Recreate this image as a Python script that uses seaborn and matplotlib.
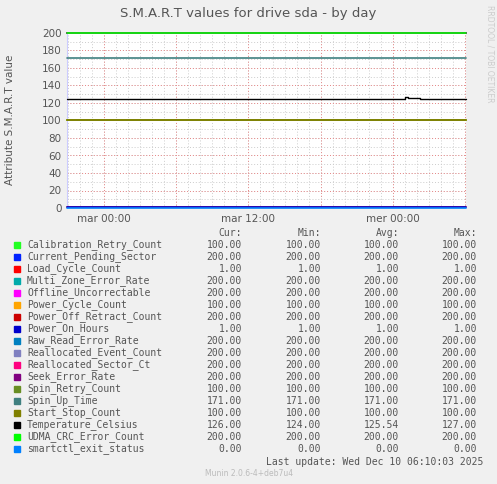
import numpy as np
import matplotlib
matplotlib.use("Agg")
import matplotlib.pyplot as plt
import seaborn as sns

# -------------------------
# Data
# -------------------------
names = ["Calibration_Retry_Count", "Current_Pending_Sector", "Load_Cycle_Count",
         "Multi_Zone_Error_Rate", "Offline_Uncorrectable", "Power_Cycle_Count",
         "Power_Off_Retract_Count", "Power_On_Hours", "Raw_Read_Error_Rate",
         "Reallocated_Event_Count", "Reallocated_Sector_Ct", "Seek_Error_Rate",
         "Spin_Retry_Count", "Spin_Up_Time", "Start_Stop_Count",
         "Temperature_Celsius", "UDMA_CRC_Error_Count", "smartctl_exit_status"]
colors = ["#22ff22", "#0022ff", "#ff0000", "#00aaaa", "#ff00ff", "#ffa500",
          "#cc0000", "#0000cc", "#0080c0", "#8080c0", "#ff0080", "#800080",
          "#688e23", "#408080", "#808000", "#000000", "#00ff00", "#0080ff"]
cur = [100, 200, 1, 200, 200, 100, 200, 1, 200, 200, 200, 200, 100, 171, 100, 126, 200, 0]
mins = [100, 200, 1, 200, 200, 100, 200, 1, 200, 200, 200, 200, 100, 171, 100, 124, 200, 0]
avgs = [100, 200, 1, 200, 200, 100, 200, 1, 200, 200, 200, 200, 100, 171, 100, 125.54, 200, 0]
maxs = [100, 200, 1, 200, 200, 100, 200, 1, 200, 200, 200, 200, 100, 171, 100, 127, 200, 0]

# temperature breakpoints (hours since mar 00:00)
temp_hours = [-3.1, 7.9, 8.2, 8.5, 8.8, 9.1, 9.4, 9.7, 10.0, 10.6, 24.8, 25.0, 25.3,
              26.3, 29.4, 30.1]
temp_vals = [124, 125, 124, 125, 124, 125, 124, 125, 124, 125, 125, 127, 126,
             124, 125, 125]

# -------------------------
# Plot
# -------------------------
sns.set_style("white")
plt.rcParams["font.family"] = ["DejaVu Sans"]
fig = plt.figure(figsize=(4.97, 4.84), dpi=100, facecolor="#f0f0f0")
W, H = 497, 484
ax = fig.add_axes([67 / W, 1 - 208 / H, (466 - 67) / W, (208 - 33) / H])
ax.set_facecolor("white")

x0, x1 = -3.1, 30.1
ax.set_xlim(x0, x1)
ax.set_ylim(0, 200)

for h in np.arange(-3, 31, 1):
    ax.axvline(h, color="#cccccc", lw=0.7, ls=(0, (1, 2)), zorder=0)
for h in np.arange(0, 31, 6):
    ax.axvline(h, color="#e88888", lw=0.7, ls=(0, (1, 2)), zorder=0)
for v in np.arange(10, 201, 10):
    ax.axhline(v, color="#cccccc", lw=0.7, ls=(0, (1, 2)), zorder=0)
for v in np.arange(20, 201, 20):
    ax.axhline(v, color="#e88888", lw=0.7, ls=(0, (1, 2)), zorder=0)

for name, c, val in zip(names, colors, cur):
    if name == "Temperature_Celsius":
        ax.step(temp_hours, temp_vals, where="post", color=c, lw=1, zorder=3,
                clip_on=False)
    else:
        ax.plot([x0, x1], [val, val], color=c, lw=1.2, zorder=3, clip_on=False)

ax.set_xticks([0, 12, 24])
ax.set_xticklabels(["mar 00:00", "mar 12:00", "mer 00:00"])
ax.set_yticks(np.arange(0, 201, 20))
ax.tick_params(labelsize=7.5, colors="#555555", length=0, pad=4)
for s in ax.spines.values():
    s.set_visible(False)
ax.spines["left"].set_visible(True)
ax.spines["left"].set_color("#ccccff")

fig.text(248 / W, 1 - 13 / H, "S.M.A.R.T values for drive sda - by day",
         ha="center", va="center", fontsize=9.5, color="#555555")
fig.text(10 / W, 1 - 120 / H, "Attribute S.M.A.R.T value", rotation=90,
         ha="center", va="center", fontsize=7.5, color="#555555")
fig.text(490 / W, 1 - 5 / H, "RRDTOOL / TOBI OETIKER", rotation=270,
         ha="center", va="top", fontsize=5.5, color="#cccccc")

# legend table
mono = "DejaVu Sans Mono"
fs = 7
cols = [242, 321, 399, 477]
for xc, hd in zip(cols, ["Cur:", "Min:", "Avg:", "Max:"]):
    fig.text(xc / W, 1 - 233 / H, hd, ha="right", va="center",
             family=mono, fontsize=fs, color="#555555")
for i, name in enumerate(names):
    y = 1 - (245 + 12 * i) / H
    fig.patches.append(plt.Rectangle((14 / W, y - 3 / H), 6 / W, 6 / H,
                                     color=colors[i], transform=fig.transFigure))
    fig.text(27 / W, y, name, ha="left", va="center", family=mono,
             fontsize=fs, color="#555555")
    for xc, arr in zip(cols, [cur, mins, avgs, maxs]):
        fig.text(xc / W, y, f"{arr[i]:.2f}", ha="right", va="center",
                 family=mono, fontsize=fs, color="#555555")
fig.text(483 / W, 1 - 462 / H, "Last update: Wed Dec 10 06:10:03 2025",
         ha="right", va="center", family=mono, fontsize=fs, color="#555555")
fig.text(249 / W, 1 - 473 / H, "Munin 2.0.6-4+deb7u4", ha="center",
         va="center", fontsize=5.5, color="#bbbbbb")

fig.savefig("out.png", dpi=100, facecolor=fig.get_facecolor())
